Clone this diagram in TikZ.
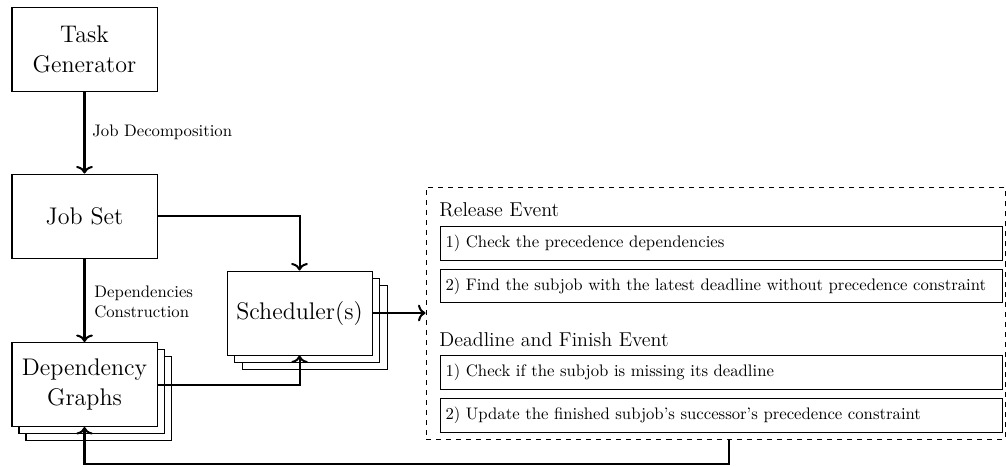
\documentclass[tikz,border=0pt]{standalone}
\usetikzlibrary{arrows.meta}
\newlength{\pxu}
\setlength{\pxu}{0.5988pt}
\begin{document}
\begin{tikzpicture}[x=\pxu, y=-\pxu,
  bigbox/.style={draw, line width=0.6pt, fill=white, minimum width=145\pxu, minimum height=84\pxu, align=center, font=\Large, inner sep=0pt},
  evbox/.style={draw, line width=0.6pt, minimum width=562\pxu, minimum height=33.5\pxu, text width=552\pxu, align=left, inner xsep=5\pxu, inner ysep=0pt, anchor=west},
  evtitle/.style={font=\large, inner sep=0pt, anchor=west},
  lbl/.style={inner sep=0pt, anchor=west, align=left},
  frame/.style={draw, dashed, line width=0.6pt, minimum width=579\pxu, minimum height=252\pxu, inner sep=0pt},
  conn/.style={line width=1.2pt, -{To[length=4.5pt, width=10pt]}},
  plainconn/.style={line width=1.2pt}
]
\useasboundingbox (0,0) rectangle (1006,466);

% Task generator and job set
\node[bigbox] (tg) at (84.5,49) {Task\\Generator};
\node[bigbox] (js) at (84.5,216) {Job Set};

% Dependency graphs (stacked)
\node[bigbox] (dg3) at (98.5,398.5) {};
\node[bigbox] (dg2) at (91.5,391.5) {};
\node[bigbox] (dg) at (84.5,384.5) {Dependency\\Graphs};

% Scheduler(s) (stacked)
\node[bigbox] (sch3) at (314.5,327.5) {};
\node[bigbox] (sch2) at (307,320.2) {};
\node[bigbox] (sch) at (299.5,313) {Scheduler(s)};

% Event frame
\node[frame] (ev) at (715.5,313) {};
\node[evtitle] (rel) at (439,210) {Release Event};
\node[evbox] (r1) at (440,243.4) {1) Check the precedence dependencies};
\node[evbox] (r2) at (440,286) {2) Find the subjob with the latest deadline without precedence constraint};
\node[evtitle] (ddl) at (439,340) {Deadline and Finish Event};
\node[evbox] (d1) at (440,372.5) {1) Check if the subjob is missing its deadline};
\node[evbox] (d2) at (440,415.5) {2) Update the finished subjob's successor's precedence constraint};

% Labels
\node[lbl] (l1) at (92,132) {Job Decomposition};
\node[lbl] (l2) at (94,302) {Dependencies\\Construction};

% Connectors
\draw[conn] (tg.south) -- (js.north);
\draw[conn] (js.south) -- (dg.north);
\draw[conn] (js.east) -| (sch.north);
\draw[conn] (dg.east) -| (sch.south);
\draw[conn] (sch.east) -- (ev.west);
\coordinate (fb) at (729,464);
\draw[conn] (fb |- ev.south) -- (fb) -| (dg.south);
\end{tikzpicture}
\end{document}
